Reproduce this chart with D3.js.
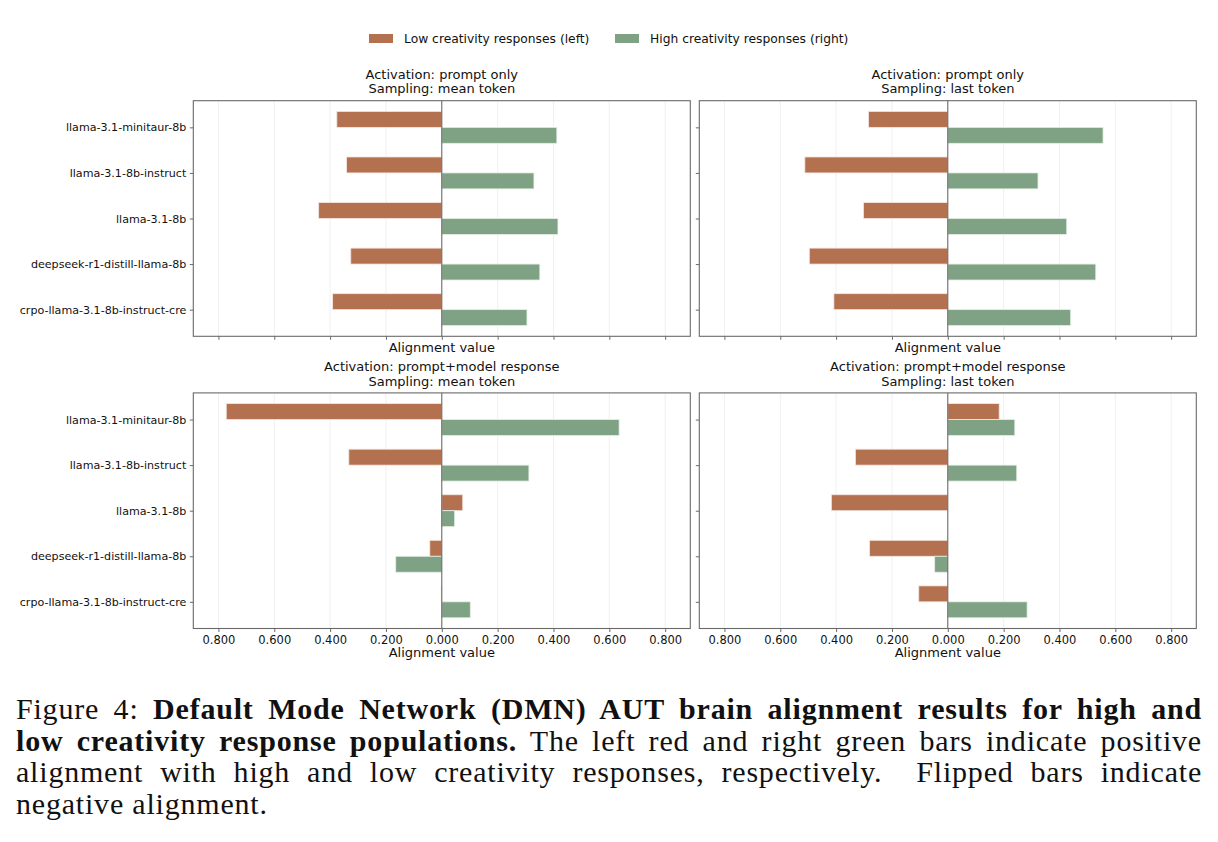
<!DOCTYPE html>
<html>
<head>
<meta charset="utf-8">
<script src="https://cdn.jsdelivr.net/npm/d3@7"></script>
<style>
  html, body { margin: 0; padding: 0; background: #fff; width: 1218px; height: 842px; overflow: hidden; }
  #chart { position: absolute; left: 0; top: 0; }
  #caption { position: absolute; left: 16px; top: 693px; width: 1186px; font-family: "Liberation Serif", "DejaVu Serif", serif; font-size: 30px; letter-spacing: 0.8px; line-height: 31.5px; color: #111; }
  #caption .ln { text-align: justify; text-align-last: justify; white-space: nowrap; }
  #caption .last { text-align: left; text-align-last: left; }
</style>
</head>
<body>
<svg id="chart" width="1218" height="690"></svg>
<div id="caption">
  <div class="ln">Figure 4: <b>Default Mode Network (DMN) AUT brain alignment results for high and</b></div>
  <div class="ln"><b>low creativity response populations.</b> The left red and right green bars indicate positive</div>
  <div class="ln">alignment with high and low creativity responses, respectively.&nbsp; Flipped bars indicate</div>
  <div class="ln last">negative alignment.</div>
</div>
<script>
// ---------- data ----------
const categories = [
  "llama-3.1-minitaur-8b",
  "llama-3.1-8b-instruct",
  "llama-3.1-8b",
  "deepseek-r1-distill-llama-8b",
  "crpo-llama-3.1-8b-instruct-cre"
];
const seriesNames = ["Low creativity responses (left)", "High creativity responses (right)"];
const xTickValues = [-0.8, -0.6, -0.4, -0.2, 0, 0.2, 0.4, 0.6, 0.8];

// Panel titles
const titlesPromptMean = ["Activation: prompt only", "Sampling: mean token"];
const titlesPromptLast = ["Activation: prompt only", "Sampling: last token"];
const titlesRespMean = ["Activation: prompt+model response", "Sampling: mean token"];
const titlesRespLast = ["Activation: prompt+model response", "Sampling: last token"];

// Alignment values (low creativity plotted to the left, high to the right)
const lowPromptMean  = [0.376, 0.341, 0.441, 0.326, 0.391];
const highPromptMean = [0.412, 0.330, 0.416, 0.351, 0.305];
const lowPromptLast  = [0.284, 0.512, 0.302, 0.496, 0.408];
const highPromptLast = [0.556, 0.323, 0.426, 0.530, 0.440];
const lowRespMean    = [0.772, 0.333, -0.075, 0.043, 0.002];
const highRespMean   = [0.635, 0.312, 0.046, -0.165, 0.102];
const lowRespLast    = [-0.184, 0.331, 0.417, 0.280, 0.104];
const highRespLast   = [0.240, 0.247, 0.000, -0.047, 0.284];

const colors = { low: "#b4714f", high: "#7ea283" };

// ---------- layout ----------
const svg = d3.select("#chart");
const panelW = 497, panelH = 235.6;
const panels = [
  { x: 193.3, y: 100.7, titles: titlesPromptMean, low: lowPromptMean, high: highPromptMean, ylabels: true,  xlabels: false },
  { x: 699.3, y: 100.7, titles: titlesPromptLast, low: lowPromptLast, high: highPromptLast, ylabels: false, xlabels: false },
  { x: 193.3, y: 392.9, titles: titlesRespMean,   low: lowRespMean,   high: highRespMean,   ylabels: true,  xlabels: true },
  { x: 699.3, y: 392.9, titles: titlesRespLast,   low: lowRespLast,   high: highRespLast,   ylabels: false, xlabels: true }
];

const x = d3.scaleLinear().domain([-0.89, 0.89]).range([0, panelW]);
const y = d3.scaleLinear().domain([-0.585, 4.585]).range([0, panelH]);
const bh = 0.35;
const font = "DejaVu Sans, sans-serif";

panels.forEach(p => {
  const g = svg.append("g").attr("transform", `translate(${p.x},${p.y})`);

  // grid
  g.append("g").selectAll("line").data(xTickValues.filter(d => d !== 0)).join("line")
    .attr("x1", d => x(d)).attr("x2", d => x(d)).attr("y1", 0).attr("y2", panelH)
    .attr("stroke", "#ececec").attr("stroke-width", 0.8);

  // bars
  const idx = d3.range(categories.length);
  g.append("g").selectAll("rect").data(idx).join("rect")
    .attr("x", i => Math.min(x(0), x(-p.low[i])))
    .attr("width", i => Math.abs(x(-p.low[i]) - x(0)))
    .attr("y", i => y(i - bh)).attr("height", y(bh) - y(0))
    .attr("fill", colors.low).attr("stroke", "#f3e6e0").attr("stroke-width", 0.8);
  g.append("g").selectAll("rect").data(idx).join("rect")
    .attr("x", i => Math.min(x(0), x(p.high[i])))
    .attr("width", i => Math.abs(x(p.high[i]) - x(0)))
    .attr("y", i => y(i)).attr("height", y(bh) - y(0))
    .attr("fill", colors.high).attr("stroke", "#e6eee7").attr("stroke-width", 0.8);

  // zero line
  g.append("line").attr("x1", x(0)).attr("x2", x(0)).attr("y1", 0).attr("y2", panelH)
    .attr("stroke", "#5a5a5a").attr("stroke-width", 1);

  // frame
  g.append("rect").attr("x", 0).attr("y", 0).attr("width", panelW).attr("height", panelH)
    .attr("fill", "none").attr("stroke", "#6a6a6a").attr("stroke-width", 1.1);

  // x axis
  const xa = d3.axisBottom(x).tickValues(xTickValues).tickSize(3.5).tickPadding(4)
    .tickFormat(p.xlabels ? (d => Math.abs(d).toFixed(3)) : "");
  const gx = g.append("g").attr("transform", `translate(0,${panelH})`).call(xa);
  gx.select(".domain").remove();
  gx.selectAll(".tick line").attr("stroke", "#6a6a6a");
  gx.selectAll(".tick text").attr("font-family", font).attr("font-size", 11.5).attr("fill", "#111");

  // y axis
  const ya = d3.axisLeft(y).tickValues(idx).tickSize(3.5).tickPadding(3.5)
    .tickFormat(p.ylabels ? (i => categories[i]) : "");
  const gy = g.append("g").call(ya);
  gy.select(".domain").remove();
  gy.selectAll(".tick line").attr("stroke", "#6a6a6a");
  gy.selectAll(".tick text").attr("font-family", font).attr("font-size", 11.1).attr("fill", "#111");

  // x label
  g.append("text").attr("x", panelW / 2).attr("y", panelH + (p.xlabels ? 28.5 : 15.8))
    .attr("text-anchor", "middle").attr("font-family", font).attr("font-size", 13).attr("fill", "#111")
    .text("Alignment value");

  // title
  p.titles.forEach((t, k) => {
    g.append("text").attr("x", panelW / 2).attr("y", -21.5 + k * 14.2)
      .attr("text-anchor", "middle").attr("font-family", font).attr("font-size", 13).attr("fill", "#111")
      .text(t);
  });
});

// legend
const legend = svg.append("g");
const legendItems = [
  { name: seriesNames[0], color: colors.low, x: 369 },
  { name: seriesNames[1], color: colors.high, x: 615 }
];
legendItems.forEach(it => {
  legend.append("rect").attr("x", it.x).attr("y", 34).attr("width", 24).attr("height", 9).attr("fill", it.color);
  legend.append("text").attr("x", it.x + 35).attr("y", 43).attr("font-family", font).attr("font-size", 12.3)
    .attr("fill", "#111").text(it.name);
});
</script>
</body>
</html>
